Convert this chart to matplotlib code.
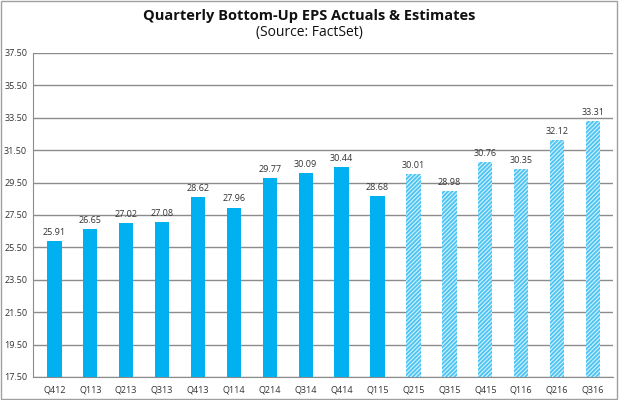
import numpy as np
import matplotlib
matplotlib.use("Agg")
import matplotlib.pyplot as plt
from matplotlib import rcParams

rcParams["font.family"] = ["Open Sans", "DejaVu Sans"]
rcParams["hatch.linewidth"] = 0.8

# Data
quarters = ["Q412", "Q113", "Q213", "Q313", "Q413", "Q114", "Q214", "Q314",
            "Q414", "Q115", "Q215", "Q315", "Q415", "Q116", "Q216", "Q316"]
eps = [25.91, 26.65, 27.02, 27.08, 28.62, 27.96, 29.77, 30.09,
       30.44, 28.68, 30.01, 28.98, 30.76, 30.35, 32.12, 33.31]
n_actual = 10
yticks = np.arange(17.5, 37.6, 2.0)

blue = "#00b0f0"
fs = 6.5

fig = plt.figure(figsize=(6.19, 4.0), dpi=100)
ax = fig.add_axes([0.053, 0.0575, 0.937, 0.81])

x = np.arange(len(quarters))
base = 17.5
for i, v in enumerate(eps):
    if i < n_actual:
        ax.bar(x[i], v - base, bottom=base, width=0.4, color=blue, lw=0, zorder=3)
    else:
        ax.bar(x[i], v - base, bottom=base, width=0.4, facecolor="#4cc4f3",
               edgecolor="#d6f2fc", hatch="////////", lw=0, zorder=3)
    ax.text(x[i], v + 0.25, "%.2f" % v, ha="center", va="bottom",
            fontsize=fs, color="#333333", zorder=4)

ax.set_xlim(-0.6, len(quarters) - 0.45)
ax.set_ylim(17.5, 37.5)
ax.set_yticks(yticks)
ax.set_yticklabels(["%.2f" % t for t in yticks], fontsize=fs, color="#333333")
ax.set_xticks(x)
ax.set_xticklabels(quarters, fontsize=fs, color="#333333")
ax.tick_params(axis="y", length=0, pad=4)
ax.tick_params(axis="x", length=0, pad=6)
ax.yaxis.grid(True, color="#8c8c8c", lw=1.0, zorder=0)

for s in ["top", "right"]:
    ax.spines[s].set_visible(False)
ax.spines["left"].set_color("#8c8c8c")
ax.spines["bottom"].set_color("#8c8c8c")

fig.text(0.5, 0.96, "Quarterly Bottom-Up EPS Actuals & Estimates", ha="center",
         va="center", fontsize=10.5, fontweight="bold", color="#111111")
fig.text(0.5, 0.918, "(Source: FactSet)", ha="center", va="center",
         fontsize=10, color="#111111")

fig.patches.append(plt.Rectangle((0.002, 0.003), 0.995, 0.994, transform=fig.transFigure,
                                 fill=False, edgecolor="#a0a0a0", lw=1))

plt.savefig("out.png", dpi=100)
